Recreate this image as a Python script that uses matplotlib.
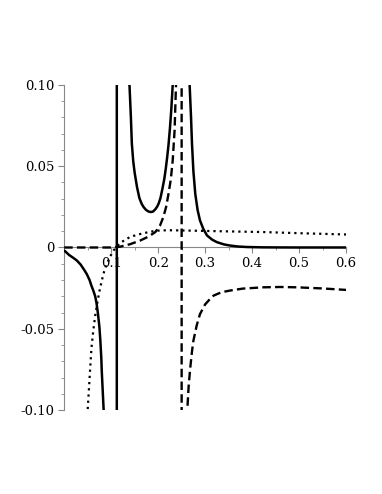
import matplotlib
matplotlib.use("Agg")
import matplotlib.pyplot as plt
from matplotlib.ticker import MultipleLocator, FixedFormatter, FixedLocator

# solid curve (poles near x=0.112 and x=0.25, off-screen points keep the jump lines)
solid_x = [0.0, 0.002, 0.010, 0.020, 0.027, 0.035, 0.042, 0.048, 0.054, 0.058, 0.062, 0.066, 0.069,
           0.072, 0.075, 0.077, 0.079, 0.080, 0.082, 0.084,
           0.095, 0.105, 0.112,
           0.112, 0.120, 0.128, 0.134, 0.139, 0.142, 0.144, 0.147, 0.150, 0.155, 0.160, 0.165, 0.169,
           0.174, 0.179, 0.184, 0.189, 0.194, 0.198, 0.201, 0.205, 0.209, 0.213, 0.216, 0.219,
           0.222, 0.225, 0.228, 0.231, 0.240, 0.250,
           0.250, 0.260, 0.267, 0.270, 0.272, 0.275, 0.279, 0.284, 0.289, 0.296, 0.304, 0.315, 0.325,
           0.340, 0.353, 0.370, 0.389, 0.420, 0.450, 0.500, 0.550, 0.600]
solid_y = [-0.002, -0.0023, -0.0045, -0.0065, -0.008, -0.0105, -0.0135, -0.0163, -0.020, -0.0235,
           -0.0265, -0.030, -0.0345, -0.041, -0.049, -0.0574, -0.068, -0.076, -0.088, -0.1,
           -0.2, -0.5, -2.0,
           2.0, 0.5, 0.22, 0.14, 0.1, 0.08, 0.064, 0.053, 0.046, 0.0372, 0.0305, 0.0268, 0.0249,
           0.0232, 0.0222, 0.0218, 0.0221, 0.0235, 0.0252, 0.027, 0.0305, 0.036, 0.042, 0.048, 0.055,
           0.063, 0.073, 0.085, 0.1, 0.3, 2.0,
           2.0, 0.3, 0.1, 0.08, 0.064, 0.047, 0.033, 0.023, 0.0167, 0.0115, 0.0074, 0.0048, 0.0033,
           0.0019, 0.0012, 0.0006, 0.0003, 0.0001, 0.00005, 0.0, 0.0, 0.0]

# dashed curve (pole at x=0.25)
dash_x = [0.0, 0.05, 0.10, 0.119, 0.14, 0.162, 0.18, 0.194, 0.204, 0.211, 0.217, 0.222, 0.227, 0.231,
          0.235, 0.238, 0.245, 0.25, 0.25, 0.255, 0.262, 0.265, 0.268, 0.272, 0.275, 0.282, 0.289,
          0.30, 0.31, 0.318, 0.335, 0.353, 0.38, 0.424, 0.46, 0.495, 0.55, 0.6]
dash_y = [0.0, 0.0, 0.0, 0.0005, 0.002, 0.0043, 0.0068, 0.0095, 0.0135, 0.0187, 0.025, 0.033, 0.042,
          0.0537, 0.072, 0.1, 0.3, 2.0, -2.0, -0.3, -0.1, -0.085, -0.075, -0.064, -0.0574, -0.048,
          -0.041, -0.035, -0.0318, -0.0296, -0.0275, -0.0265, -0.0253, -0.0245, -0.0243, -0.0245,
          -0.0252, -0.0261]

# dotted curve
dot_x = [0.045, 0.050, 0.055, 0.058, 0.062, 0.066, 0.070, 0.075, 0.080, 0.085, 0.091, 0.098, 0.105,
         0.112, 0.119, 0.130, 0.140, 0.155, 0.169, 0.185, 0.204, 0.225, 0.247, 0.30, 0.35, 0.424,
         0.5, 0.6]
dot_y = [-0.13, -0.1, -0.076, -0.062, -0.051, -0.042, -0.0348, -0.027, -0.0204, -0.0148, -0.010,
         -0.0055, -0.0019, 0.0005, 0.0027, 0.0048, 0.0064, 0.0078, 0.0088, 0.0098, 0.0105, 0.0106,
         0.0105, 0.0102, 0.0099, 0.0095, 0.0088, 0.008]

x_ticks = [0.1, 0.2, 0.3, 0.4, 0.5, 0.6]
x_labels = ["0.1", "0.2", "0.3", "0.4", "0.5", "0.6"]
y_ticks = [-0.10, -0.05, 0.0, 0.05, 0.10]
y_labels = ["-0.10", "-0.05", "0", "0.05", "0.10"]

plt.rcParams["font.family"] = ["DejaVu Serif"]
fig = plt.figure(figsize=(3.82, 4.94), dpi=100)
ax = fig.add_axes([0.168, 0.170, 0.738, 0.658])

ax.plot(solid_x, solid_y, color="black", lw=1.8, solid_joinstyle="round")
ax.plot(dash_x, dash_y, color="black", lw=1.7, linestyle=(0, (3.6, 1.8)))
ax.plot(dot_x, dot_y, color="black", lw=1.6, linestyle=(0, (1, 1.8)))

ax.set_xlim(0, 0.6)
ax.set_ylim(-0.1, 0.1)

for s in ["top", "right"]:
    ax.spines[s].set_visible(False)
ax.spines["bottom"].set_position(("data", 0))
ax.spines["left"].set_position(("data", 0))
for s in ["bottom", "left"]:
    ax.spines[s].set_color("#888888")
    ax.spines[s].set_linewidth(0.8)
    ax.spines[s].set_zorder(0.5)

ax.xaxis.set_major_locator(FixedLocator(x_ticks))
ax.xaxis.set_major_formatter(FixedFormatter(x_labels))
ax.yaxis.set_major_locator(FixedLocator(y_ticks))
ax.yaxis.set_major_formatter(FixedFormatter(y_labels))
ax.xaxis.set_minor_locator(MultipleLocator(0.05))
ax.yaxis.set_minor_locator(MultipleLocator(0.01))
ax.tick_params(which="major", length=4, width=0.8, color="#888888", labelsize=9.5, pad=3)
ax.tick_params(which="minor", length=2, width=0.6, color="#888888")

fig.savefig("out.png", dpi=100)
